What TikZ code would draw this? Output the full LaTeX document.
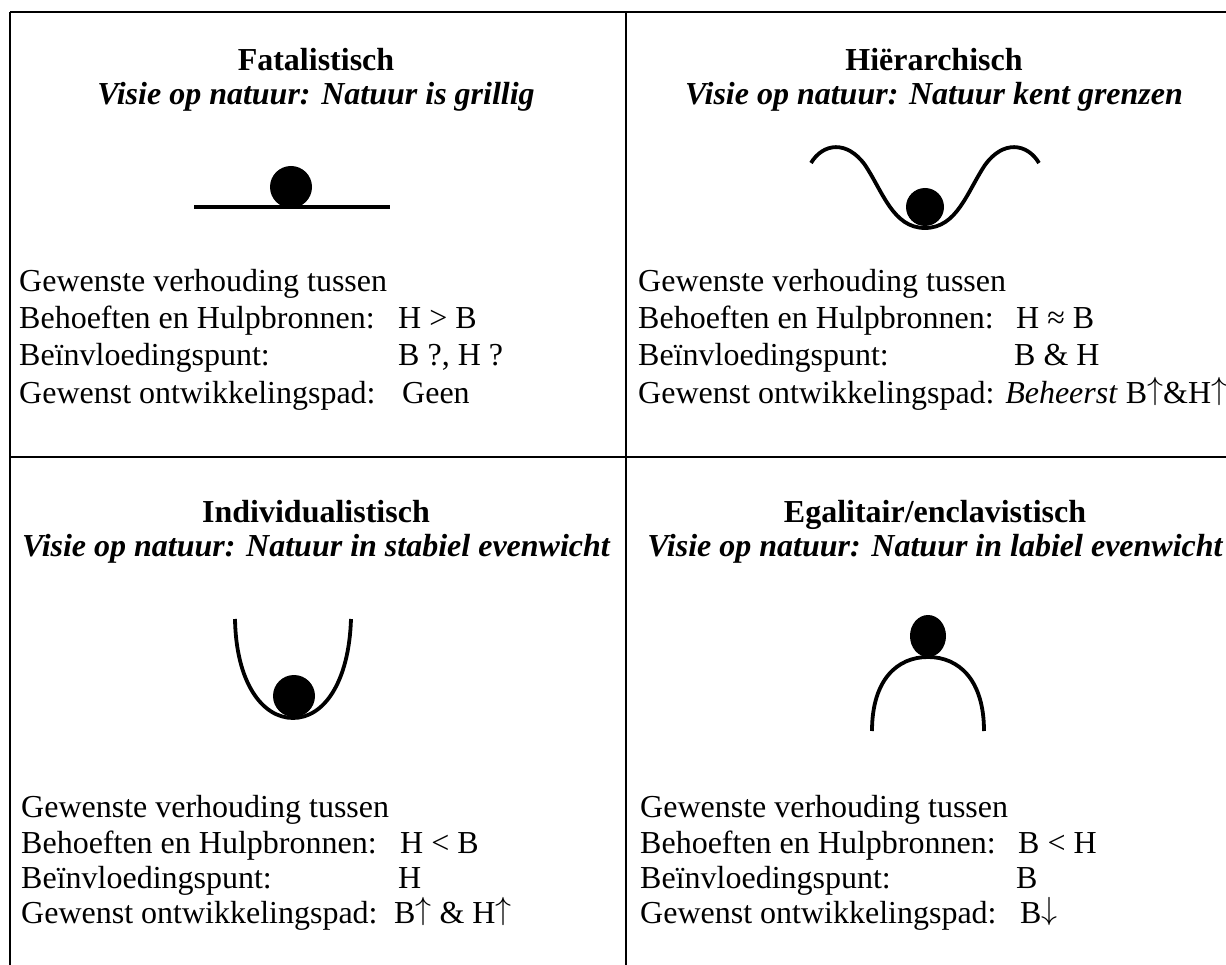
\documentclass[tikz,border=0pt]{standalone}
\usepackage{fix-cm}
\usepackage{fontspec}
\setmainfont{Liberation Serif}
\newcommand{\upar}{\raisebox{0.12em}{$\uparrow$}}
\newcommand{\downar}{\raisebox{0.12em}{$\downarrow$}}
\begin{document}
\begin{tikzpicture}[x=1pt,y=-1pt,
  txt/.style={inner sep=0pt, anchor=base west, font=\fontsize{32}{36.8}\selectfont},
  ttl/.style={inner sep=0pt, anchor=base, font=\fontsize{32}{36.8}\selectfont\bfseries},
  sub/.style={inner sep=0pt, anchor=base, font=\fontsize{32}{36.8}\selectfont\bfseries\itshape},
  rule/.style={line width=1.4pt},
  curve/.style={line width=3.8pt},
  ball/.style={fill=black}]

\fill[white] (0,0) rectangle (1226,965);
\useasboundingbox (0,0) rectangle (1226,965);

% table rules
\coordinate (tl) at (10,12);   \coordinate (tr) at (1226,12);
\coordinate (ml) at (10,457);  \coordinate (mr) at (1226,457);
\coordinate (bl) at (10,965);
\coordinate (dt) at (626,12);  \coordinate (db) at (626,965);
\draw[rule] (tl) -- (tr);
\draw[rule] (ml) -- (mr);
\draw[rule] (tl) -- (bl);
\draw[rule] (dt) -- (db);

% ---------- Fatalistisch ----------
\node[ttl] (fatT) at (316,71) {Fatalistisch};
\node[sub] (fatS) at (316,105) {Visie op natuur: Natuur is grillig};
\draw[curve] (194,207) -- (390,207);
\fill[ball] (291,187) circle[radius=21];
\node[txt] (fat1) at (19,292) {Gewenste verhouding tussen};
\node[txt] (fat2) at (19,329) {Behoeften en Hulpbronnen:};
\node[txt] (fat3) at (19,366) {Beïnvloedingspunt:};
\node[txt] (fat4) at (19,403) {Gewenst ontwikkelingspad:};
\node[txt] (fat2v) at (398,329) {H > B};
\node[txt] (fat3v) at (398,366) {B ?, H ?};
\node[txt] (fat4v) at (402,403) {Geen};

% ---------- Hiërarchisch ----------
\node[ttl] (hieT) at (934,71) {Hiërarchisch};
\node[sub] (hieS) at (934,105) {Visie op natuur: Natuur kent grenzen};
\draw[curve] (811,163) .. controls (823,143) and (847,140) .. (865,165)
  .. controls (883,192) and (893,228) .. (925,228)
  .. controls (957,228) and (967,192) .. (985,165)
  .. controls (1003,140) and (1027,143) .. (1039,163);
\fill[ball] (925,207) circle[radius=19];
\node[txt] (hie1) at (638,292) {Gewenste verhouding tussen};
\node[txt] (hie2) at (638,329) {Behoeften en Hulpbronnen:};
\node[txt] (hie3) at (638,366) {Beïnvloedingspunt:};
\node[txt] (hie4) at (638,403) {Gewenst ontwikkelingspad: \textit{Beheerst} B\upar\&H\upar};
\node[txt] (hie2v) at (1016,329) {H ≈ B};
\node[txt] (hie3v) at (1014,366) {B \& H};

% ---------- Individualistisch ----------
\node[ttl] (indT) at (316,522) {Individualistisch};
\node[sub] (indS) at (316,556) {Visie op natuur: Natuur in stabiel evenwicht};
\draw[curve] (235,619) .. controls (236,682) and (262,718) .. (293,718)
  .. controls (324,718) and (349,682) .. (351,619);
\fill[ball] (294,696) circle[radius=21];
\node[txt] (ind1) at (21,817) {Gewenste verhouding tussen};
\node[txt] (ind2) at (21,853) {Behoeften en Hulpbronnen:};
\node[txt] (ind3) at (21,888) {Beïnvloedingspunt:};
\node[txt] (ind4) at (21,923) {Gewenst ontwikkelingspad:};
\node[txt] (ind2v) at (400,853) {H < B};
\node[txt] (ind3v) at (398,888) {H};
\node[txt] (ind4v) at (394,923) {B\upar{} \& H\upar};

% ---------- Egalitair/enclavistisch ----------
\node[ttl] (egaT) at (935,522) {Egalitair/enclavistisch};
\node[sub] (egaS) at (935,556) {Visie op natuur: Natuur in labiel evenwicht};
\draw[curve] (872,731) .. controls (872,680) and (897,657) .. (928,657)
  .. controls (959,657) and (984,680) .. (984,731);
\fill[ball] (928,636) ellipse[x radius=18, y radius=21];
\node[txt] (ega1) at (640,817) {Gewenste verhouding tussen};
\node[txt] (ega2) at (640,853) {Behoeften en Hulpbronnen:};
\node[txt] (ega3) at (640,888) {Beïnvloedingspunt:};
\node[txt] (ega4) at (640,923) {Gewenst ontwikkelingspad:};
\node[txt] (ega2v) at (1018,853) {B < H};
\node[txt] (ega3v) at (1016,888) {B};
\node[txt] (ega4v) at (1020,923) {B\downar};

\end{tikzpicture}
\end{document}
